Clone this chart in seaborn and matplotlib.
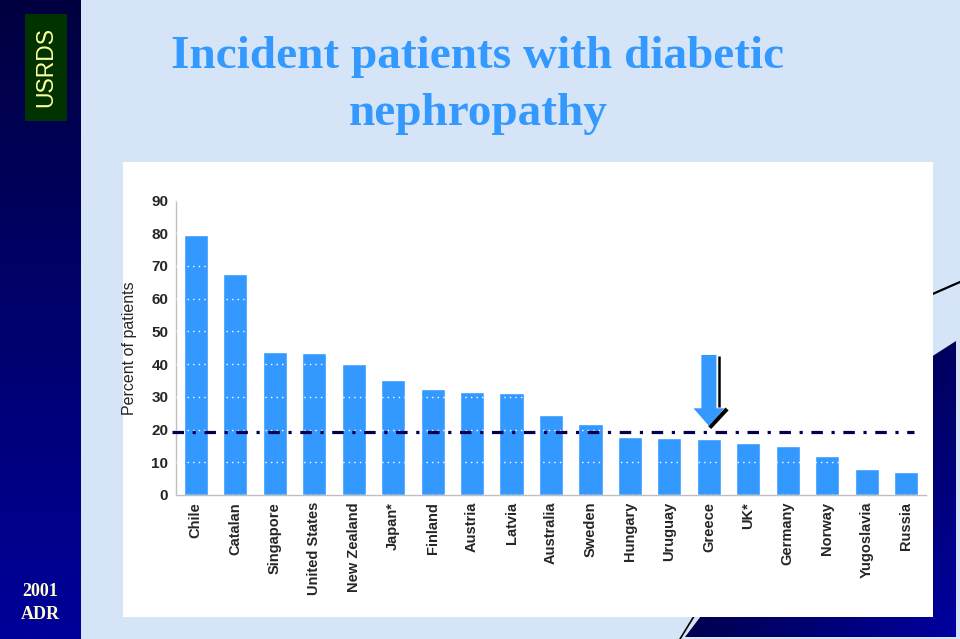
import numpy as np
import pandas as pd
import matplotlib
matplotlib.use("Agg")
import matplotlib.pyplot as plt
from matplotlib.patches import Rectangle, Polygon, FancyArrow
from matplotlib.colors import LinearSegmentedColormap
import seaborn as sns

# ---------------- data ----------------
countries = ["Chile", "Catalan", "Singapore", "United States", "New Zealand",
             "Japan*", "Finland", "Austria", "Latvia", "Australia", "Sweden",
             "Hungary", "Uruguay", "Greece", "UK*", "Germany", "Norway",
             "Yugoslavia", "Russia"]
percent = [79.6, 67.4, 43.7, 43.4, 40.1, 35.1, 32.5, 31.4, 31.2, 24.6, 21.6,
           17.8, 17.5, 17.0, 15.9, 14.9, 11.8, 8.0, 6.9]
reference_level = 19.2
highlight = "Greece"
yticks = list(range(0, 100, 10))

title_line1 = "Incident patients with diabetic"
title_line2 = "nephropathy"
ylabel = "Percent of patients"

BAR = "#3399ff"
NAVY = "#000050"

sns.set_style("white")
plt.rcParams["font.family"] = ["Liberation Sans", "DejaVu Sans"]

W, H = 960, 639
fig = plt.figure(figsize=(W / 100, H / 100), dpi=100)
fig.patch.set_facecolor("#d5e5f7")

# ---------------- slide decoration (pixel coords) ----------------
bg = fig.add_axes([0, 0, 1, 1], zorder=-10)
bg.set_xlim(0, W)
bg.set_ylim(H, 0)
bg.axis("off")
bg.set_facecolor("none")

navy_cmap = LinearSegmentedColormap.from_list("navy", ["#000040", "#00009a"])
grad = np.linspace(0, 1, 256).reshape(-1, 1)
bg.imshow(grad, cmap=navy_cmap, extent=(0, 81, H, 0), aspect="auto", zorder=1)
bg.add_patch(Rectangle((25, 14), 42, 107, facecolor="#003300", edgecolor="none", zorder=2))
bg.text(46, 67, "USRDS", rotation=90, ha="center", va="center", color="#ffff99",
        fontsize=16.5, family="Liberation Sans", zorder=3)
bg.text(40, 596, "2001", ha="center", va="baseline", color="#ffffcc",
        fontsize=13, fontweight="bold", family="Liberation Serif", zorder=3)
bg.text(40, 619, "ADR", ha="center", va="baseline", color="#ffffcc",
        fontsize=13, fontweight="bold", family="Liberation Serif", zorder=3)

# right-side navy shape with gradient
poly = Polygon([(928, 359), (956, 341), (956, 637), (685, 637), (704, 612), (928, 612)],
               closed=True, facecolor="none", edgecolor="none")
bg.add_patch(poly)
gx, gy = np.meshgrid(np.linspace(0, 1, 128), np.linspace(0, 1, 128))
g2 = 0.55 * gx + 0.45 * gy
right_cmap = LinearSegmentedColormap.from_list("rnavy", ["#000010", "#0000a0"])
im = bg.imshow(g2, cmap=right_cmap, extent=(685, 956, 637, 341), aspect="auto", zorder=1)
im.set_clip_path(poly)
bg.plot([928, 960], [296, 282], color="black", lw=1.6, zorder=2)
bg.plot([680, 704], [639, 600], color="black", lw=1.2, zorder=2)

# white chart panel
bg.add_patch(Rectangle((123, 162), 810, 455, facecolor="white", edgecolor="none", zorder=4))

# titles
bg.text(478, 68, title_line1, ha="center", va="baseline", color=BAR,
        fontsize=34, fontweight="bold", family="Liberation Serif", zorder=5)
bg.text(478, 125, title_line2, ha="center", va="baseline", color=BAR,
        fontsize=34, fontweight="bold", family="Liberation Serif", zorder=5)

# ---------------- chart ----------------
ax = fig.add_axes([176 / W, (H - 495) / H, 750 / W, 294.5 / H])
ax.set_facecolor("white")
df = pd.DataFrame({"country": countries, "percent": percent})
sns.barplot(data=df, x="country", y="percent", color=BAR, saturation=1,
            width=0.61, errorbar=None, ax=ax, zorder=1)

ax.set_xlim(-0.5, len(countries) - 0.5)
ax.set_ylim(0, 90)
ax.set_yticks(yticks)
ax.set_yticklabels([str(t) for t in yticks])

# dotted light gridlines in front of bars
ax.set_axisbelow(False)
ax.yaxis.grid(True, color="white", linestyle=(0, (1, 3)), linewidth=1)
ax.xaxis.grid(False)

for s in ["top", "right"]:
    ax.spines[s].set_visible(False)
for s in ["left", "bottom"]:
    ax.spines[s].set_color("#bfbfbf")
    ax.spines[s].set_linewidth(1)

ax.tick_params(axis="y", length=0, pad=5.5, labelsize=11)
ax.tick_params(axis="x", length=0, pad=5, labelsize=10.5)
for lab in ax.get_yticklabels():
    lab.set_fontweight("bold")
for lab in ax.get_xticklabels():
    lab.set_fontweight("bold")
    lab.set_rotation(90)
    lab.set_va("top")
    lab.set_ha("center")

ax.set_xlabel("")
ax.set_ylabel(ylabel, fontsize=11.5)
ax.yaxis.set_label_coords((137 - 176) / 750, 0.5)

# reference dash-dot line
ax.plot([-0.6, 18.2], [reference_level, reference_level], color=NAVY, lw=2.3,
        linestyle=(0, (3.6, 2.7, 1.0, 2.7)), dash_capstyle="butt",
        clip_on=False, zorder=4)

# block arrow pointing at the highlighted country
hx = countries.index(highlight)
top, tip, head_len = 42.8, 21.1, 5.4
ax.plot([hx + 0.25, hx + 0.25], [top - 0.4, tip + head_len + 0.3], color="black",
        lw=1.8, zorder=5, solid_capstyle="butt")
ax.plot([hx + 0.46, hx + 0.02], [tip + head_len - 0.2, tip - 0.5], color="black",
        lw=3.0, zorder=5, solid_capstyle="butt")
arrow = FancyArrow(hx, top, 0, tip - top, width=0.38, head_width=0.78,
                   head_length=head_len, length_includes_head=True,
                   facecolor=BAR, edgecolor="none", zorder=6)
ax.add_patch(arrow)

fig.savefig("out.png", dpi=100, facecolor=fig.get_facecolor())
